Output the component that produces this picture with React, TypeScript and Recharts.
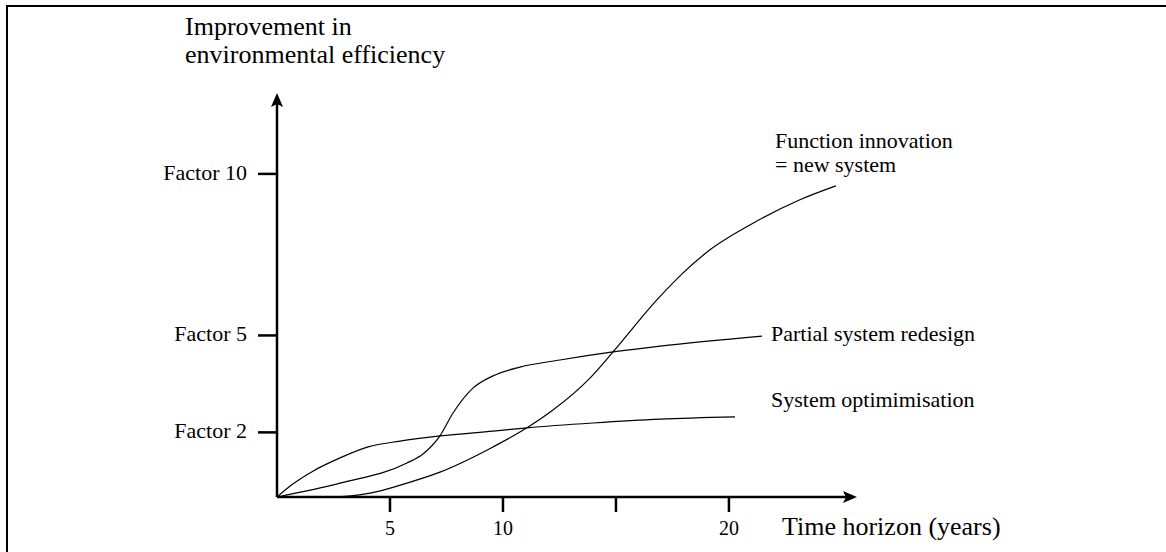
import React from 'react';
import { LineChart, Line, XAxis, YAxis } from 'recharts';

// axis ticks
const xTicks = [5, 10, 15, 20];
const xTickLabels = ['5', '10', '', '20'];
const yTicks = [2, 5, 10];
const yTickLabels = ['Factor 2', 'Factor 5', 'Factor 10'];

// System optimimisation
const optYears = [0, 0.58, 1.59, 2.79, 4.03, 5.44, 7.21, 9.56, 11.06, 13.98, 16.95, 20.27];
const optFactor = [0, 0.34, 0.8, 1.21, 1.55, 1.73, 1.89, 2.04, 2.14, 2.29, 2.41, 2.48];

// Partial system redesign
const partialYears = [0, 2.79, 5.75, 6.46, 7.21, 7.79, 8.67, 9.56, 10.75, 12.52, 14.87, 16.95, 21.46];
const partialFactor = [0, 0.43, 1.05, 1.33, 1.89, 2.6, 3.37, 3.75, 4.02, 4.24, 4.49, 4.67, 4.98];

// Function innovation = new system
const newYears = [0, 1.02, 2.21, 4.12, 5.75, 7.21, 9.56, 11.06, 12.21, 13.85, 14.87, 16.81, 17.96, 19.16, 20.93, 23.14, 24.73];
const newFactor = [0, 0, 0, 0.12, 0.43, 0.77, 1.55, 2.14, 2.69, 3.68, 4.49, 6.1, 6.93, 7.65, 8.42, 9.2, 9.63];

const toPoints = (xs: number[], ys: number[]) => xs.map((x, i) => ({ x, y: ys[i] }));

const optimisation = toPoints(optYears, optFactor);
const partial = toPoints(partialYears, partialFactor);
const newSystem = toPoints(newYears, newFactor);

const FONT = '"Liberation Serif", "Times New Roman", serif';

const XTick = (props: any) => {
  const { x, y, payload } = props;
  const label = xTickLabels[xTicks.indexOf(payload.value)] ?? '';
  return (
    <text x={x} y={y + 14} textAnchor="middle" fontFamily={FONT} fontSize={20} fill="#000">
      {label}
    </text>
  );
};

const YTick = (props: any) => {
  const { x, y, payload } = props;
  const label = yTickLabels[yTicks.indexOf(payload.value)] ?? '';
  return (
    <text x={x} y={y + 6} textAnchor="end" fontFamily={FONT} fontSize={22} fill="#000">
      {label}
    </text>
  );
};

export default function App() {
  return (
    <div style={{ position: 'absolute', left: 0, top: 0, width: 1166, height: 552, overflow: 'hidden', background: '#fff' }}>
      <div
        style={{
          position: 'absolute', left: 6, top: 5, width: 1170, height: 560,
          borderTop: '2px solid #000', borderLeft: '2px solid #000',
        }}
      />
      <svg width={1166} height={552} style={{ position: 'absolute', left: 0, top: 0, pointerEvents: 'none' }}>
        <defs>
          <marker id="arrow" viewBox="0 0 14 12" markerWidth={14} markerHeight={12} refX={10} refY={6}
            markerUnits="userSpaceOnUse" orient="auto-start-reverse">
            <path d="M0,0 L14,6 L0,12 L3,6 Z" fill="#000" />
          </marker>
        </defs>
      </svg>
      <div style={{ position: 'absolute', left: 0, top: 0 }}>
        <LineChart width={1166} height={552} margin={{ top: 97, right: 313, bottom: 0, left: 0 }}>
          <XAxis
            dataKey="x"
            type="number"
            domain={[0, 25.49]}
            ticks={xTicks}
            height={55}
            axisLine={{ stroke: '#000', strokeWidth: 2.5, markerEnd: 'url(#arrow)' }}
            tickLine={{ stroke: '#000', strokeWidth: 2.5 }}
            tickSize={15}
            tickMargin={9}
            tick={<XTick />}
            allowDuplicatedCategory={false}
          />
          <YAxis
            dataKey="y"
            type="number"
            domain={[0, 12.38]}
            ticks={yTicks}
            width={277}
            axisLine={{ stroke: '#000', strokeWidth: 2.5, markerStart: 'url(#arrow)' }}
            tickLine={{ stroke: '#000', strokeWidth: 2.5 }}
            tickSize={19}
            tickMargin={11}
            tick={<YTick />}
          />
          <Line data={optimisation} dataKey="y" type="monotone" stroke="#000" strokeWidth={1.2}
            dot={false} activeDot={false} isAnimationActive={false} />
          <Line data={partial} dataKey="y" type="monotone" stroke="#000" strokeWidth={1.2}
            dot={false} activeDot={false} isAnimationActive={false} />
          <Line data={newSystem} dataKey="y" type="monotone" stroke="#000" strokeWidth={1.2}
            dot={false} activeDot={false} isAnimationActive={false} />
        </LineChart>
      </div>
      <svg width={1166} height={552} style={{ position: 'absolute', left: 0, top: 0, pointerEvents: 'none' }}
        fontFamily={FONT} fill="#000">
        <text x={185} y={35} fontSize={26}>Improvement in</text>
        <text x={185} y={63} fontSize={26}>environmental efficiency</text>
        <text x={775} y={148} fontSize={22}>Function innovation</text>
        <text x={775} y={172} fontSize={22}>= new system</text>
        <text x={771} y={341} fontSize={22}>Partial system redesign</text>
        <text x={771} y={407} fontSize={22}>System optimimisation</text>
        <text x={782} y={535} fontSize={26}>Time horizon (years)</text>
      </svg>
    </div>
  );
}
